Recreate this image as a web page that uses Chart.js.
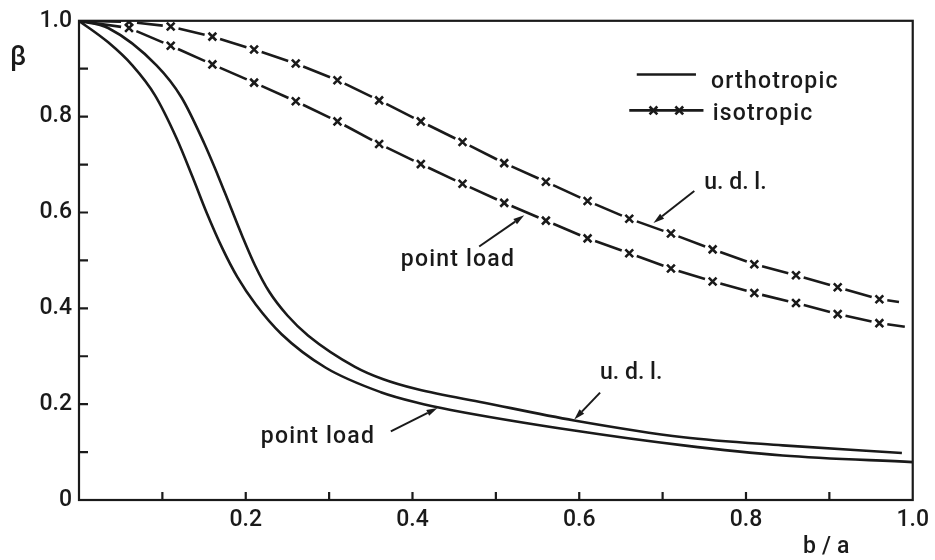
<!DOCTYPE html>
<html>
<head>
<meta charset="utf-8">
<script src="https://cdn.jsdelivr.net/npm/chart.js@4.4.1/dist/chart.umd.min.js"></script>
<style>
    html, body { margin: 0; padding: 0; background: #fff; }
    #wrap { width: 935px; height: 560px; }
</style>
</head>
<body>
<div id="wrap"><canvas id="betaChart" width="935" height="560"></canvas></div>
<script>
// Isotropic curves: crosses every 0.05 in b/a (plus start and end of the line)
const isoUdlX = [0, 0.06, 0.11, 0.16, 0.21, 0.26, 0.31, 0.36, 0.41, 0.46, 0.51, 0.56, 0.61, 0.66, 0.71, 0.76, 0.81, 0.86, 0.91, 0.96, 0.993];
const isoUdlBeta = [1.0, 0.998, 0.988, 0.967, 0.940, 0.911, 0.876, 0.834, 0.790, 0.747, 0.703, 0.664, 0.624, 0.587, 0.556, 0.523, 0.492, 0.469, 0.444, 0.419, 0.411];

const isoPointX = [0, 0.06, 0.11, 0.16, 0.21, 0.26, 0.31, 0.36, 0.41, 0.46, 0.51, 0.56, 0.61, 0.66, 0.71, 0.76, 0.81, 0.86, 0.91, 0.96, 1.0];
const isoPointBeta = [1.0, 0.985, 0.948, 0.909, 0.871, 0.832, 0.790, 0.743, 0.701, 0.660, 0.620, 0.583, 0.546, 0.515, 0.483, 0.456, 0.432, 0.411, 0.388, 0.369, 0.359];

// Orthotropic curves (solid)
const orthoUdlX = [0, 0.035, 0.093, 0.123, 0.150, 0.166, 0.181, 0.196, 0.211, 0.228, 0.250, 0.275, 0.331, 0.365, 0.406, 0.486, 0.594, 0.725, 0.844, 0.987];
const orthoUdlBeta = [1.0, 0.985, 0.907, 0.840, 0.745, 0.680, 0.615, 0.550, 0.490, 0.435, 0.385, 0.343, 0.278, 0.252, 0.231, 0.203, 0.166, 0.131, 0.114, 0.098];

const orthoPointX = [0, 0.035, 0.064, 0.091, 0.117, 0.136, 0.153, 0.172, 0.190, 0.212, 0.243, 0.296, 0.362, 0.406, 0.446, 0.594, 0.725, 0.844, 1.0];
const orthoPointBeta = [1.0, 0.955, 0.907, 0.845, 0.755, 0.675, 0.600, 0.525, 0.465, 0.408, 0.346, 0.276, 0.225, 0.203, 0.188, 0.145, 0.114, 0.093, 0.079];

// Tick labels
const xTickLabels = ['', '0.2', '0.4', '0.6', '0.8', '1.0'];
const yTickLabels = ['0', '0.2', '0.4', '0.6', '0.8', '1.0'];

const INK = '#1a1a1a';
const FONT = 'Roboto';
const WEIGHT = '500';

// Text notes and arrows, placed in data units (b/a, beta)
const notes = [
    { text: 'u. d. l.', x: 0.750, y: 0.649, spacing: 0 },
    { text: 'point load', x: 0.386, y: 0.488, spacing: 1.2 },
    { text: 'u. d. l.', x: 0.625, y: 0.253, spacing: 0 },
    { text: 'point load', x: 0.218, y: 0.118, spacing: 1.2 },
];
const arrows = [
    { from: [0.738, 0.645], to: [0.689, 0.578] },
    { from: [0.480, 0.529], to: [0.534, 0.594] },
    { from: [0.625, 0.224], to: [0.594, 0.168] },
    { from: [0.374, 0.143], to: [0.430, 0.192] },
];

const toXY = (xs, ys) => xs.map((x, i) => ({ x: x, y: ys[i] }));

// crosses on every point except the two line ends
const crossRadius = (n) => Array.from({ length: n }, (_, i) => (i === 0 || i === n - 1) ? 0 : 5.5);

// dash between two crosses: gap, dash, gap
const GAP = 8;
const dashBetweenCrosses = (ctx) => {
    const len = Math.hypot(ctx.p1.x - ctx.p0.x, ctx.p1.y - ctx.p0.y);
    return [0, GAP, Math.max(len - 2 * GAP, 1), GAP];
};

const isoStyle = {
    borderColor: INK,
    borderWidth: 2.6,
    borderCapStyle: 'butt',
    pointStyle: 'crossRot',
    pointBorderColor: INK,
    pointBorderWidth: 2.6,
    tension: 0,
    segment: { borderDash: dashBetweenCrosses },
};
const orthoStyle = {
    borderColor: INK,
    borderWidth: 2.6,
    pointRadius: 0,
    cubicInterpolationMode: 'monotone',
};

function drawArrow(ctx, x0, y0, x1, y1) {
    const ang = Math.atan2(y1 - y0, x1 - x0);
    const head = 11, half = 3.2;
    const bx = x1 - head * Math.cos(ang), by = y1 - head * Math.sin(ang);
    ctx.beginPath();
    ctx.moveTo(x0, y0);
    ctx.lineTo(bx, by);
    ctx.stroke();
    ctx.beginPath();
    ctx.moveTo(x1, y1);
    ctx.lineTo(bx + half * Math.sin(ang), by - half * Math.cos(ang));
    ctx.lineTo(bx - half * Math.sin(ang), by + half * Math.cos(ang));
    ctx.closePath();
    ctx.fill();
}

function drawCross(ctx, cx, cy, r) {
    const d = r * Math.SQRT1_2;
    ctx.beginPath();
    ctx.moveTo(cx - d, cy - d); ctx.lineTo(cx + d, cy + d);
    ctx.moveTo(cx - d, cy + d); ctx.lineTo(cx + d, cy - d);
    ctx.stroke();
}

const figureDecor = {
    id: 'figureDecor',
    afterDraw(chart) {
        const { ctx, chartArea: a, scales } = chart;
        const sx = v => scales.x.getPixelForValue(v);
        const sy = v => scales.y.getPixelForValue(v);
        ctx.save();
        ctx.strokeStyle = INK;
        ctx.fillStyle = INK;
        ctx.lineWidth = 2.2;

        // frame
        ctx.strokeRect(a.left, a.top, a.right - a.left, a.bottom - a.top);

        // inward ticks every 0.1
        ctx.beginPath();
        for (let i = 1; i < 10; i++) {
            const px = sx(i / 10), py = sy(i / 10);
            ctx.moveTo(px, a.bottom); ctx.lineTo(px, a.bottom - 8);
            ctx.moveTo(a.left, py); ctx.lineTo(a.left + 9, py);
        }
        ctx.stroke();

        // legend
        ctx.lineWidth = 2.6;
        ctx.beginPath();
        ctx.moveTo(sx(0.669), sy(0.888)); ctx.lineTo(sx(0.740), sy(0.888));
        ctx.stroke();
        ctx.beginPath();
        ctx.moveTo(sx(0.660), sy(0.813)); ctx.lineTo(sx(0.749), sy(0.813));
        ctx.stroke();
        drawCross(ctx, sx(0.689), sy(0.813), 5.5);
        drawCross(ctx, sx(0.720), sy(0.813), 5.5);

        ctx.font = WEIGHT + ' 23px ' + FONT;
        ctx.textBaseline = 'alphabetic';
        ctx.textAlign = 'left';
        ctx.letterSpacing = '1.2px';
        ctx.fillText('orthotropic', sx(0.758), sy(0.859));
        ctx.fillText('isotropic', sx(0.760), sy(0.793));

        // notes and arrows
        notes.forEach(n => {
            ctx.letterSpacing = n.spacing + 'px';
            ctx.fillText(n.text, sx(n.x), sy(n.y));
        });
        ctx.lineWidth = 2;
        arrows.forEach(ar => {
            drawArrow(ctx, sx(ar.from[0]), sy(ar.from[1]), sx(ar.to[0]), sy(ar.to[1]));
        });

        // axis titles
        ctx.letterSpacing = '0px';
        ctx.font = WEIGHT + ' 27px ' + FONT;
        ctx.fillText('\u03B2', 10, 65);
        ctx.letterSpacing = '6px';
        ctx.font = WEIGHT + ' 23px ' + FONT;
        ctx.fillText('b/a', 803, 553);
        ctx.restore();
    }
};

document.addEventListener('DOMContentLoaded', function () {
    const ctx = document.getElementById('betaChart').getContext('2d');

    new Chart(ctx, {
        type: 'scatter',
        data: {
            datasets: [
                { label: 'isotropic u.d.l.', data: toXY(isoUdlX, isoUdlBeta), showLine: true, pointRadius: crossRadius(isoUdlX.length), ...isoStyle },
                { label: 'isotropic point load', data: toXY(isoPointX, isoPointBeta), showLine: true, pointRadius: crossRadius(isoPointX.length), ...isoStyle },
                { label: 'orthotropic u.d.l.', data: toXY(orthoUdlX, orthoUdlBeta), showLine: true, ...orthoStyle },
                { label: 'orthotropic point load', data: toXY(orthoPointX, orthoPointBeta), showLine: true, ...orthoStyle },
            ],
        },
        options: {
            responsive: false,
            animation: false,
            devicePixelRatio: 1,
            layout: { padding: { top: 18, right: 17, bottom: 0, left: 0 } },
            plugins: {
                legend: { display: false },
                tooltip: { enabled: false },
            },
            scales: {
                x: {
                    type: 'linear',
                    min: 0,
                    max: 1,
                    grid: { display: false, drawTicks: false },
                    border: { display: false },
                    ticks: {
                        stepSize: 0.2,
                        padding: 6,
                        maxRotation: 0,
                        autoSkip: false,
                        color: INK,
                        font: { family: FONT, size: 23, weight: WEIGHT },
                        callback: (v, i) => xTickLabels[i] ?? '',
                    },
                    afterFit: (scale) => { scale.height = 60; },
                },
                y: {
                    min: 0,
                    max: 1,
                    grid: { display: false, drawTicks: false },
                    border: { display: false },
                    ticks: {
                        stepSize: 0.2,
                        padding: 7,
                        color: INK,
                        font: { family: FONT, size: 23, weight: WEIGHT },
                        callback: (v, i) => yTickLabels[i] ?? '',
                    },
                    afterFit: (scale) => { scale.width = 79; },
                },
            },
        },
        plugins: [figureDecor],
    });
});
</script>
</body>
</html>
